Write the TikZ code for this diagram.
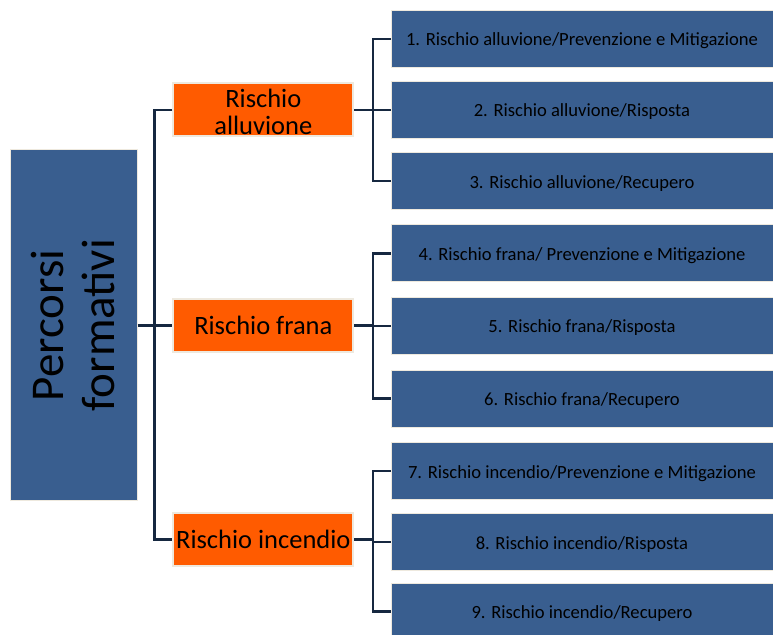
\documentclass[tikz,border=0pt]{standalone}
\usepackage{fontspec}
\setmainfont{Carlito}
\definecolor{boxblue}{RGB}{57,94,143}
\definecolor{boxorange}{RGB}{255,91,0}
\definecolor{boxedge}{RGB}{238,233,222}
\definecolor{linecol}{RGB}{22,40,64}
\begin{document}
\begin{tikzpicture}[x=1pt,y=-1pt,
  bluebox/.style={draw=boxedge,line width=1pt,fill=boxblue,inner sep=0pt,minimum width=382pt,minimum height=57pt,text height=17pt,text depth=3pt,font=\fontsize{18.6}{22}\selectfont,text=black},
  orangebox/.style={draw=boxedge,line width=1.8pt,fill=boxorange,inner sep=0pt,minimum width=180pt,minimum height=53pt,font=\fontsize{26.5}{30}\selectfont,text=black},
  mainbox/.style={draw=boxedge,line width=1pt,fill=boxblue,inner sep=0pt,minimum width=351pt,minimum height=127pt,rotate=90,align=center,font=\fontsize{47}{51}\selectfont,text=black},
  conn/.style={draw=linecol,line width=2.4pt}]
\useasboundingbox (0,0) rectangle (773,634);
\clip (0,0) rectangle (773,634);
\fill[white] (0,0) rectangle (773,634);
\node[mainbox] (L) at (73.5,325.3) {Percorsi\\formativi};
\node[orangebox] (O1) at (263.3,109.7) {};
\path[path picture={
  \node[font=\fontsize{26.5}{30}\selectfont,text=black,anchor=base,inner sep=0pt] at (263.3,107.5) {Rischio};
  \node[font=\fontsize{26.5}{30}\selectfont,text=black,anchor=base,inner sep=0pt] at (263.3,134) {alluvione};}]
  (O1.north west) rectangle (O1.south east);
\node[orangebox] (O2) at (263.3,325.3) {Rischio frana};
\node[orangebox] (O3) at (263.3,539.5) {Rischio incendio};
\node[bluebox] (R1) at (582,38.8) {1. Rischio alluvione/Prevenzione e Mitigazione};
\node[bluebox] (R2) at (582,109.7) {2. Rischio alluvione/Risposta};
\node[bluebox] (R3) at (582,181) {3. Rischio alluvione/Recupero};
\node[bluebox] (R4) at (582,253.3) {4. Rischio frana/ Prevenzione e Mitigazione};
\node[bluebox] (R5) at (582,325.8) {5. Rischio frana/Risposta};
\node[bluebox] (R6) at (582,398.5) {6. Rischio frana/Recupero};
\node[bluebox] (R7) at (582,471) {7. Rischio incendio/Prevenzione e Mitigazione};
\node[bluebox] (R8) at (582,542) {8. Rischio incendio/Risposta};
\node[bluebox] (R9) at (582,611.5) {9. Rischio incendio/Recupero};
\coordinate (sp) at (154.5,0);
\coordinate (sq) at (373,0);
\draw[conn] (L.south) -- (O2.west);
\draw[conn] (O1.west) -- (O1.west -| sp) -- (O3.west -| sp) -- (O3.west);
\draw[conn] (O1.east) -- (O1.east -| sq);
\draw[conn] (R2.west) -- (R2.west -| sq);
\draw[conn] (R1.west) -- (R1.west -| sq) -- (R3.west -| sq) -- (R3.west);
\draw[conn] (O2.east) -- (O2.east -| sq);
\draw[conn] (R5.west) -- (R5.west -| sq);
\draw[conn] (R4.west) -- (R4.west -| sq) -- (R6.west -| sq) -- (R6.west);
\draw[conn] (O3.east) -- (O3.east -| sq);
\draw[conn] (R8.west) -- (R8.west -| sq);
\draw[conn] (R7.west) -- (R7.west -| sq) -- (R9.west -| sq) -- (R9.west);
\end{tikzpicture}
\end{document}
